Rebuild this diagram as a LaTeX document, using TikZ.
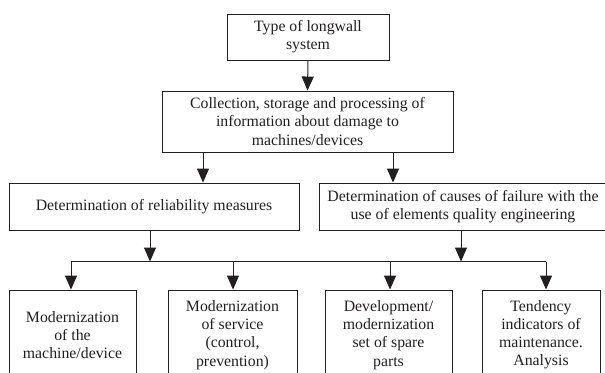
\documentclass[tikz,border=0pt]{standalone}
\usepackage{fontspec}
\setmainfont{Liberation Serif}
\usetikzlibrary{arrows.meta}
\definecolor{ink}{HTML}{231F20}
\begin{document}
\begin{tikzpicture}[x=0.75pt,y=-0.75pt,
  box/.style={draw=ink,line width=0.7pt,align=center,inner sep=0pt,text=ink,
    font=\fontsize{11.85}{13.6}\selectfont},
  arr/.style={draw=ink,line width=0.75pt,-{Triangle[width=9pt,length=10.5pt]}},
  ln/.style={draw=ink,line width=0.75pt}]
\useasboundingbox (0,0) rectangle (605,372);
\node[box,minimum width=121.5pt,minimum height=34.5pt] (top) at (308,37) {Type of longwall\\system};
\node[box,minimum width=218.25pt,minimum height=45.75pt] (coll) at (307.5,121.5) {Collection, storage and processing of\\information about damage to\\machines/devices};
\node[box,minimum width=217.5pt,minimum height=35.25pt] (rel) at (154,206.5) {Determination of reliability measures};
\node[box,minimum width=216pt,minimum height=35.25pt] (cause) at (463,206.5) {Determination of causes of failure with the\\use of elements quality engineering};
\node[box,minimum width=95.25pt,minimum height=67.5pt] (b1) at (72.5,335) {Modernization\\of the\\machine/device};
\node[box,minimum width=96.75pt,minimum height=67.5pt] (b2) at (232.5,335) {Modernization\\of service\\(control,\\prevention)};
\node[box,minimum width=95.25pt,minimum height=67.5pt] (b3) at (388.5,335) {Development/\\modernization\\set of spare\\parts};
\node[box,minimum width=88.5pt,minimum height=67.5pt] (b4) at (541,335) {Tendency\\indicators of\\maintenance.\\Analysis};
\coordinate (cL) at (203,0);
\coordinate (cR) at (393,0);
\coordinate (rL) at (150,0);
\coordinate (rR) at (461,0);
\coordinate (barL) at (71,261.5);
\coordinate (barR) at (546,261.5);
\coordinate (d2) at (233,261.5);
\coordinate (d3) at (390,261.5);
\draw[arr] (top.south) -- (coll.north);
\draw[arr] (cL |- coll.south) -- (cL |- rel.north);
\draw[arr] (cR |- coll.south) -- (cR |- cause.north);
\draw[arr] (rL |- rel.south) -- (rL |- barL);
\draw[arr] (rR |- cause.south) -- (rR |- barL);
\draw[ln] (barL) -- (barR);
\draw[arr] (barL) -- (barL |- b1.north);
\draw[arr] (d2) -- (d2 |- b2.north);
\draw[arr] (d3) -- (d3 |- b3.north);
\draw[arr] (barR) -- (barR |- b4.north);
\end{tikzpicture}
\end{document}
